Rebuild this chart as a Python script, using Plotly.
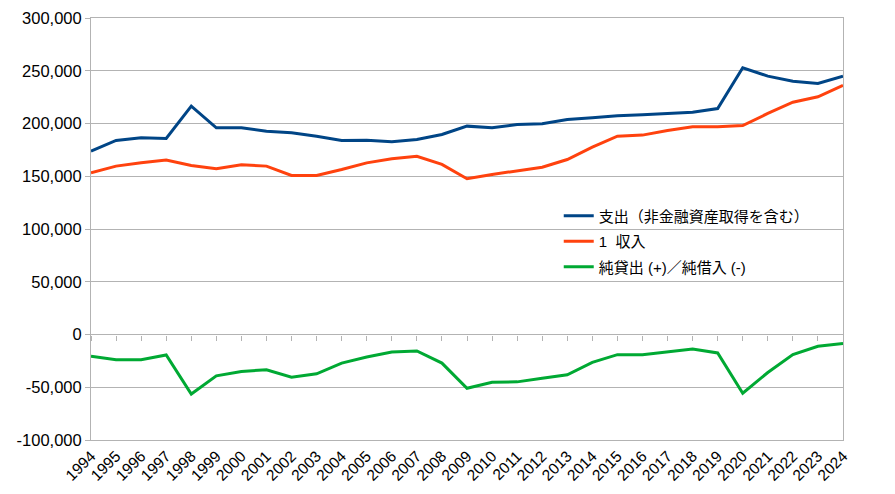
import plotly.graph_objects as go

years = list(range(1994, 2025))

# 支出（非金融資産取得を含む）
spending = [173800, 183900, 186500, 185800, 216400, 195900, 195900, 192700,
            191200, 188000, 183900, 184200, 182700, 184900, 189600, 197500,
            195900, 199100, 199700, 203800, 205400, 207300, 208300, 209500,
            210700, 214200, 252800, 244900, 240100, 237900, 244900]

# 1 収入
revenue = [153300, 159600, 162700, 165300, 160200, 157100, 160900, 159600,
           150700, 150700, 156400, 162700, 166500, 169000, 161200, 147600,
           151700, 155500, 158600, 165900, 177600, 188000, 189000, 193400,
           196900, 196900, 198100, 209500, 220200, 225300, 236100]

# 純貸出 (+)／純借入 (-)
net_lending = [-20700, -23900, -23900, -19400, -56400, -39200, -35000, -33400,
               -40400, -37300, -27100, -21300, -16600, -15600, -27100, -51000,
               -45200, -44900, -41400, -38200, -26400, -19100, -19100, -16600,
               -13700, -17500, -55700, -36000, -19100, -11100, -8600]

series_names = ["支出（非金融資産取得を含む）", "1\u00a0 収入", "純貸出 (+)／純借入 (-)"]
colors = ["#004586", "#ff420e", "#00a933"]

y_min, y_max = -100000, 300000
y_ticks = list(range(y_min, y_max + 1, 50000))
y_ticktext = ["{:,}".format(v) for v in y_ticks]  # plain hyphen minus

font_family = "Liberation Sans, Noto Sans CJK JP, sans-serif"

fig = go.Figure()
for i, (name, vals, col) in enumerate(zip(series_names, [spending, revenue, net_lending], colors)):
    fig.add_trace(go.Scatter(x=years, y=vals, name=name, mode="lines",
                             legendgroup=f"g{i}",
                             line=dict(color=col, width=3)))

# category ticks drawn along the zero line
zero_pos = (0 - y_min) / (y_max - y_min)

# page body adds ~8px offset, so the figure is a bit smaller
fig.update_layout(
    width=887, height=486,
    margin=dict(l=83, r=52, t=10, b=54),
    plot_bgcolor="white", paper_bgcolor="white",
    font=dict(family=font_family, size=16, color="#000000"),
    showlegend=True,
    legend=dict(x=0.622, y=0.57, xanchor="left", yanchor="top",
                bgcolor="rgba(0,0,0,0)", font=dict(size=15),
                tracegroupgap=3, itemwidth=30),
    xaxis=dict(range=[years[0], years[-1]], tickmode="array", tickvals=years,
               ticktext=[str(y) for y in years], tickangle=-45,
               showgrid=False, ticks="", showline=True, mirror=True,
               linecolor="#b3b3b3", linewidth=1, zeroline=False,
               automargin=False, tickfont=dict(size=15.5)),
    xaxis2=dict(range=[years[0], years[-1]], overlaying="x", anchor="free",
                position=zero_pos, side="bottom", tickmode="array",
                tickvals=years, showticklabels=False, ticks="outside",
                ticklen=5, tickcolor="#b3b3b3", showgrid=False,
                showline=False, zeroline=False, automargin=False),
    yaxis=dict(range=[y_min, y_max], tickmode="array", tickvals=y_ticks,
               ticktext=y_ticktext, showgrid=True, gridcolor="#b3b3b3",
               gridwidth=1, ticks="outside", ticklen=5, tickcolor="#b3b3b3",
               showline=True, mirror=True, linecolor="#b3b3b3", linewidth=1,
               zeroline=False, automargin=False, tickfont=dict(size=16.5)),
)

# invisible trace so the zero-line tick axis is drawn
fig.add_trace(go.Scatter(x=years, y=[None] * len(years), xaxis="x2",
                         showlegend=False, hoverinfo="skip"))

fig.write_html("out.html")
